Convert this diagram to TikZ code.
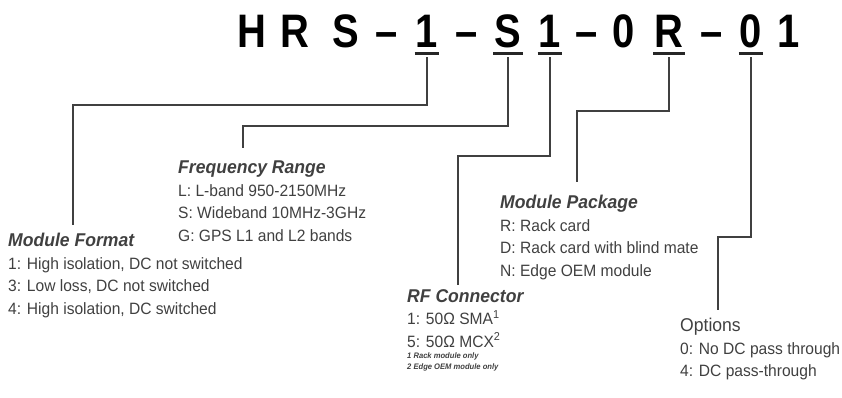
\documentclass[tikz,border=0pt]{standalone}
\usepackage{fontspec}
\setmainfont{Liberation Sans}
\newfontfamily\codefont[FakeStretch=0.85]{Liberation Sans}
\newfontfamily\blockfont[FakeStretch=0.95]{Liberation Sans}
\usetikzlibrary{positioning}

\tikzset{
  codechar/.style={anchor=base, inner xsep=1pt, inner ysep=0pt, text depth=6pt,
    font=\codefont\bfseries\fontsize{47}{50}\selectfont},
  ul/.style={line width=3pt, black!85},
  lead/.style={line width=1.3pt, black!75, shorten <=4pt},
  block/.style={anchor=north west, inner sep=0pt, align=left, text=black!75,
    font=\blockfont\fontsize{16.4}{22.5}\selectfont},
  note/.style={anchor=north west, inner sep=0pt, align=left, text=black!75,
    font=\blockfont\bfseries\itshape\fontsize{8}{11.5}\selectfont}
}
\newcommand{\head}[1]{{\bfseries\itshape\fontsize{18.5}{22.5}\selectfont #1}}

\begin{document}
\begin{tikzpicture}[x=1pt,y=-1pt]
\useasboundingbox (0,0) rectangle (842,397);

% part number
\foreach \ch/\x [count=\i] in {H/252, R/295, S/346, \textendash/387, 1/427,
    \textendash/467, S/508, 1/550, \textendash/587, 0/624, R/669,
    \textendash/712, 0/751, 1/789}
  \node[codechar] (c\i) at (\x,47) {\ch};
\foreach \i in {5,7,8,11,13}
  \draw[ul] (c\i.south west) -- (c\i.south east);

% option fields
\node[block] (fmt) at (8,233) {\head{Module Format}\\
  1: High isolation, DC not switched\\
  3: Low loss, DC not switched\\
  4: High isolation, DC switched};
\node[block] (freq) at (178,161) {\head{Frequency Range}\\
  L: L-band 950-2150MHz\\
  S: Wideband 10MHz-3GHz\\
  G: GPS L1 and L2 bands};
\node[block] (rfc) at (407,289) {\head{RF Connector}\\
  1: 50Ω SMA\textsuperscript{1}\\
  5: 50Ω MCX\textsuperscript{2}};
\node[note] (rfcnote) at ([yshift=-5pt]rfc.south west) {1 Rack module only\\2 Edge OEM module only};
\node[block] (pkg) at (500,195) {\head{Module Package}\\
  R: Rack card\\
  D: Rack card with blind mate\\
  N: Edge OEM module};
\node[block] (opt) at (680,318) {{\fontsize{18.5}{22.5}\selectfont Options}\\
  0: No DC pass through\\
  4: DC pass-through};

% leader lines
\coordinate (fmtbend) at (73,105);  \coordinate (fmtend) at (73,225);
\coordinate (freqbend) at (243,126); \coordinate (freqend) at (243,148);
\coordinate (rfcbend) at (458,156); \coordinate (rfcend) at (458,285);
\coordinate (pkgbend) at (577,111); \coordinate (pkgend) at (577,182);
\coordinate (optbend) at (718,237); \coordinate (optend) at (718,310);

\draw[lead] (c5.south) |- (fmtbend) -- (fmtend);
\draw[lead] (c7.south) |- (freqbend) -- (freqend);
\draw[lead] (c8.south) |- (rfcbend) -- (rfcend);
\draw[lead] (c11.south) |- (pkgbend) -- (pkgend);
\draw[lead] (c13.south) |- (optbend) -- (optend);
\end{tikzpicture}
\end{document}
